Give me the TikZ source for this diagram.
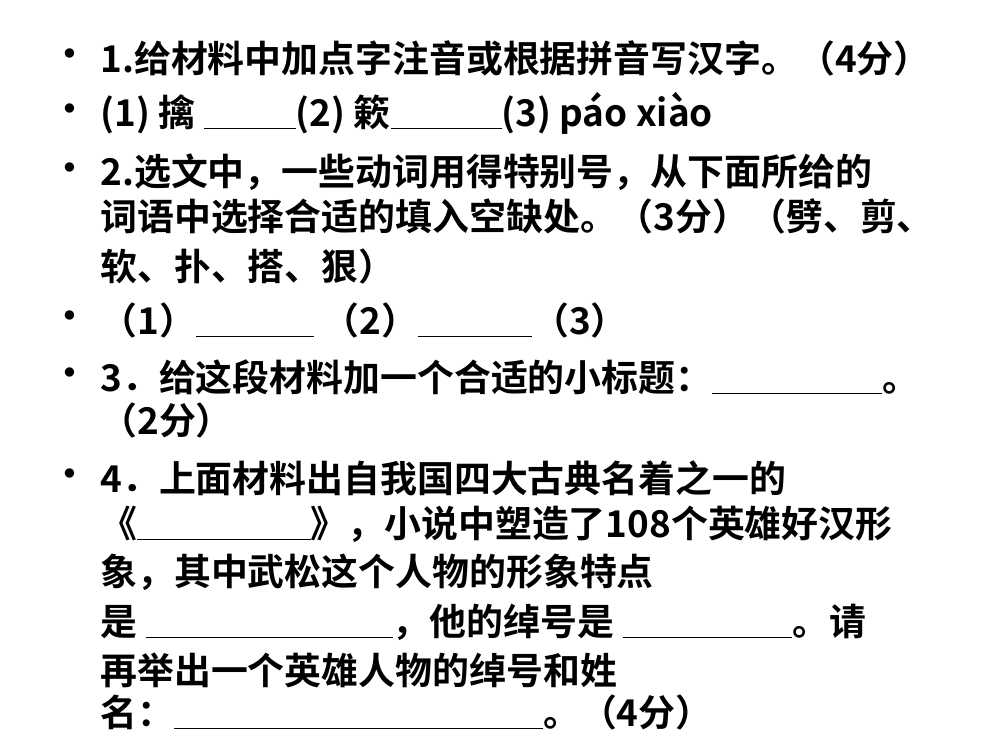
\documentclass[tikz,border=0pt]{standalone}
\usepackage{fontspec}
\setmainfont{Noto Sans CJK SC Bold}
\newcommand{\blank}[1]{\underline{\hspace{#1}}}
\begin{document}
\begin{tikzpicture}[x=0.02cm,y=-0.02cm]
    \tikzstyle{line}=[anchor=west,inner sep=0pt,font=\fontsize{21}{25}\selectfont]
    \tikzstyle{bullet}=[anchor=center,inner sep=0pt,font=\fontsize{21}{25}\selectfont]
    \useasboundingbox (0,0) rectangle (1000,750);

    \foreach \y in {58,113,172,320,377,478}
        \node[bullet] at (70,\y) {•};

    \node[line] (q1) at (100,58) {1.给材料中加点字注音或根据拼音写汉字。（4分）};
    \node[line] (q1a) at (100,113) {(1) 擒 \blank{2.5em}(2) 簌\blank{3em}(3) páo xiào};
    \node[line] (q2) at (100,172) {2.选文中，一些动词用得特别号，从下面所给的};
    \node[line] (q2b) at (100,216) {词语中选择合适的填入空缺处。（3分）（劈、剪、};
    \node[line] (q2c) at (100,266) {软、扑、搭、狠）};
    \node[line] (q2a) at (100,320) {（1）\blank{3.2em} （2）\blank{3.1em}（3）};
    \node[line] (q3) at (100,377) {3．给这段材料加一个合适的小标题：\blank{4.6em}。};
    \node[line] (q3b) at (100,420) {（2分）};
    \node[line] (q4) at (100,478) {4．上面材料出自我国四大古典名着之一的};
    \node[line] (q4b) at (100,524) {《\blank{4.7em}》，小说中塑造了108个英雄好汉形};
    \node[line] (q4c) at (100,572) {象，其中武松这个人物的形象特点};
    \node[line] (q4d) at (100,622) {是 \blank{6.7em}，他的绰号是 \blank{4.6em}。请};
    \node[line] (q4e) at (100,670) {再举出一个英雄人物的绰号和姓};
    \node[line] (q4f) at (100,712) {名：\blank{10em}。（4分）};
\end{tikzpicture}
\end{document}
